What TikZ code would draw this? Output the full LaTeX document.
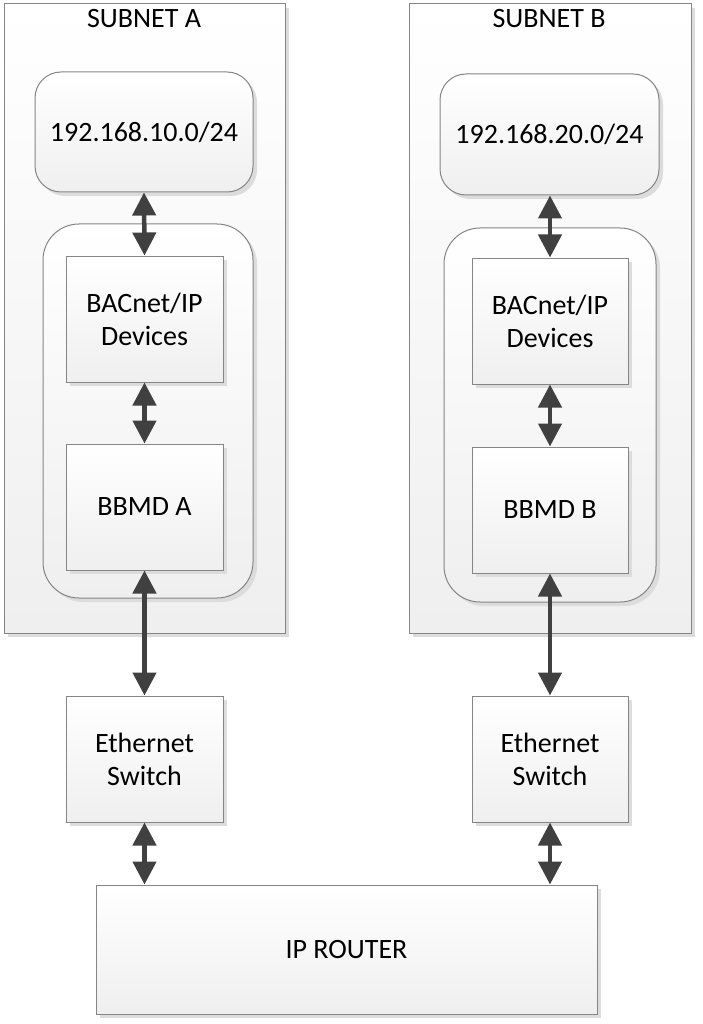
\documentclass[tikz,border=0pt]{standalone}
\usepackage{fontspec}
\setmainfont{Carlito}
\usetikzlibrary{arrows.meta,shadows,calc}
\definecolor{edgegray}{HTML}{858585}
\definecolor{arrowgray}{HTML}{404040}
\definecolor{boxbot}{HTML}{EFEFEF}
\definecolor{shadowgray}{HTML}{DCDCDC}
\tikzset{
  basebox/.style={draw=edgegray, line width=1pt, top color=white, bottom color=boxbot,
    inner sep=0pt, align=center, font=\fontsize{28}{33}\selectfont,
    drop shadow={shadow xshift=4pt, shadow yshift=-4pt, fill=shadowgray, opacity=1}},
  framebox/.style={basebox, top color=white, bottom color=boxbot},
  ipbox/.style={basebox, rounded corners=26pt},
  groupbox/.style={basebox, rounded corners=36pt},
  devbox/.style={basebox},
  link/.style={draw=arrowgray, line width=4.5pt, {Triangle[length=23pt,width=23pt]}-{Triangle[length=23pt,width=23pt]}},
  title/.style={font=\fontsize{28}{33}\selectfont, anchor=base, inner sep=0pt}
}
\begin{document}
\begin{tikzpicture}[x=1pt,y=-1pt]
\useasboundingbox (0,0) rectangle (703,1024);
% subnet frames
\node[framebox, minimum width=281pt, minimum height=629pt] (frameA) at (144.5,318.5) {};
\node[framebox, minimum width=282pt, minimum height=629pt] (frameB) at (550,318.5) {};
\node[title] (titleA) at (144,28) {SUBNET A};
\node[title] (titleB) at (549,28) {SUBNET B};
% IP boxes
\node[ipbox, minimum width=218pt, minimum height=120pt] (ipA) at (144,132) {192.168.10.0/24};
\node[ipbox, minimum width=219pt, minimum height=121pt] (ipB) at (549.5,134.5) {192.168.20.0/24};
% group boxes
\node[groupbox, minimum width=210pt, minimum height=374pt] (grpA) at (148,411) {};
\node[groupbox, minimum width=212pt, minimum height=374pt] (grpB) at (550,415) {};
% device boxes
\node[devbox, minimum width=157pt, minimum height=126pt] (bacA) at (144.5,319) {BACnet/IP\\Devices};
\node[devbox, minimum width=156pt, minimum height=126pt] (bacB) at (550,321) {BACnet/IP\\Devices};
\node[devbox, minimum width=157pt, minimum height=126pt] (bbmdA) at (144.5,507) {BBMD A};
\node[devbox, minimum width=156pt, minimum height=126pt] (bbmdB) at (550,510) {BBMD B};
\node[devbox, minimum width=157pt, minimum height=126pt] (swA) at (144.5,759) {Ethernet\\Switch};
\node[devbox, minimum width=156pt, minimum height=126pt] (swB) at (550,759) {Ethernet\\Switch};
\node[devbox, minimum width=501pt, minimum height=129pt] (router) at (346.5,949.5) {IP ROUTER};
% links
\draw[link] (ipA.south) -- (bacA.north);
\draw[link] (bacA.south) -- (bbmdA.north);
\draw[link] (bbmdA.south) -- (swA.north);
\draw[link] (swA.south) -- (swA.south |- router.north);
\draw[link] (ipB.south -| bacB.north) -- (bacB.north);
\draw[link] (bacB.south) -- (bbmdB.north);
\draw[link] (bbmdB.south) -- (swB.north);
\draw[link] (swB.south) -- (swB.south |- router.north);
\end{tikzpicture}
\end{document}
